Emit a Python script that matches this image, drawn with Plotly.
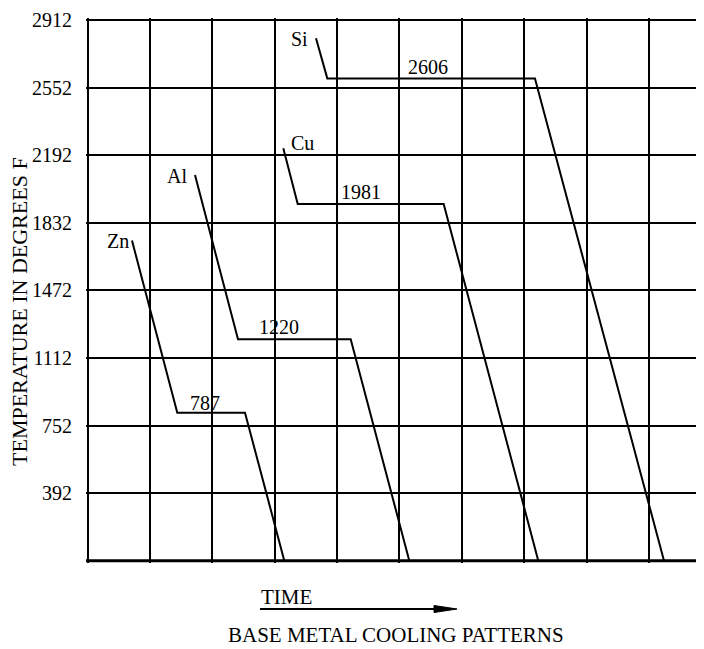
import plotly.graph_objects as go

# Temperature ticks (degrees F)
tick_vals = [32, 392, 752, 1112, 1472, 1832, 2192, 2552, 2912]
tick_text = ["", "392", "752", "1112", "1472", "1832", "2192", "2552", "2912"]

# Cooling curves: time (grid units) and temperature as drawn
metals = ["Zn", "Al", "Cu", "Si"]
plateau_labels = ["787", "1220", "1981", "2606"]
zn_time = [0.713, 1.439, 2.524, 3.154]
zn_temp = [1737, 820, 820, 32]
al_time = [1.723, 2.412, 4.218, 5.157]
al_temp = [2086, 1211, 1211, 32]
cu_time = [3.138, 3.369, 5.708, 7.224]
cu_temp = [2229, 1932, 1932, 32]
si_time = [3.662, 3.843, 7.171, 9.239]
si_temp = [2815, 2601, 2601, 32]

# label positions
name_time = [0.49, 1.43, 3.45, 3.39]
name_temp = [1735, 2081, 2255, 2811]
plat_time = [1.89, 3.07, 4.38, 5.46]
plat_temp = [874, 1275, 1994, 2663]

FONT = "Liberation Serif, Times New Roman, serif"
FS = 20

fig = go.Figure()
for t, T in [(zn_time, zn_temp), (al_time, al_temp), (cu_time, cu_temp), (si_time, si_temp)]:
    fig.add_trace(go.Scatter(x=t, y=T, mode="lines",
                             line=dict(color="black", width=2), showlegend=False,
                             hoverinfo="skip"))

annotations = []
for m, x, y in zip(metals, name_time, name_temp):
    annotations.append(dict(x=x, y=y, text=m, showarrow=False,
                            xanchor="center", yanchor="middle",
                            font=dict(family=FONT, size=FS, color="black")))
for lab, x, y in zip(plateau_labels, plat_time, plat_temp):
    annotations.append(dict(x=x, y=y, text=lab, showarrow=False,
                            xanchor="center", yanchor="middle",
                            font=dict(family=FONT, size=FS, color="black")))

OFF = 8  # page body margin
L, R, T_, B = 78, 0, 10, 86
W, H = 696, 641
pw, ph = W - L - R, H - T_ - B

def px_x(p):
    return (p - OFF - L) / pw

def px_y(p):
    return (H - B - (p - OFF)) / ph

annotations.append(dict(xref="paper", yref="paper", x=px_x(20), y=px_y(312),
                        xanchor="center", yanchor="middle",
                        text="TEMPERATURE IN DEGREES F", textangle=-90, showarrow=False,
                        font=dict(family=FONT, size=22, color="black")))
annotations.append(dict(xref="paper", yref="paper", x=px_x(259), y=px_y(597),
                        xanchor="left", yanchor="middle",
                        text="TIME", showarrow=False,
                        font=dict(family=FONT, size=21, color="black")))
annotations.append(dict(xref="paper", yref="paper", x=px_x(226), y=px_y(635),
                        xanchor="left", yanchor="middle",
                        text="BASE METAL COOLING PATTERNS", showarrow=False,
                        font=dict(family=FONT, size=21, color="black")))

shapes = [
    # time arrow shaft
    dict(type="line", xref="paper", yref="paper",
         x0=px_x(260), x1=px_x(440), y0=px_y(609), y1=px_y(609),
         line=dict(color="black", width=2)),
    # time arrow head
    dict(type="path", xref="paper", yref="paper",
         path=f"M {px_x(434)} {px_y(605.5)} L {px_x(457)} {px_y(609)} L {px_x(434)} {px_y(612.5)} Z",
         fillcolor="black", line=dict(color="black", width=1)),
    # heavier bottom border
    dict(type="line", xref="paper", yref="y", x0=0, x1=1, y0=32, y1=32,
         line=dict(color="black", width=3)),
]

fig.update_layout(
    width=W, height=H,
    margin=dict(l=L, r=R, t=T_, b=B, autoexpand=False),
    paper_bgcolor="white", plot_bgcolor="white",
    annotations=annotations, shapes=shapes,
    xaxis=dict(range=[-0.024, 9.88], dtick=1, tick0=0, showgrid=True,
               gridcolor="black", gridwidth=2, zeroline=False,
               showticklabels=False, showline=False, automargin=False),
    yaxis=dict(range=[19.7, 2922.7], tickvals=tick_vals, ticktext=tick_text,
               showgrid=True, gridcolor="black", gridwidth=2, zeroline=False,
               showline=False, ticks="outside", ticklen=9, tickcolor="white",
               automargin=False,
               tickfont=dict(family=FONT, size=FS, color="black")),
)

fig.write_html("out.html")
